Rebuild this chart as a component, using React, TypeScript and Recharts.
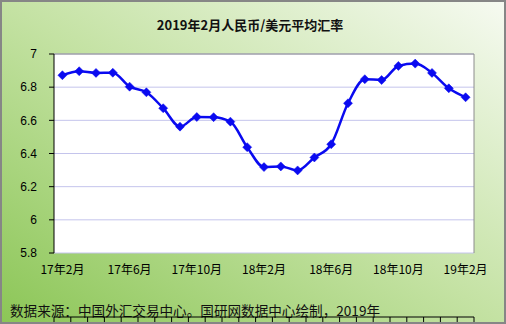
import { LineChart, Line, XAxis, YAxis, CartesianGrid, ReferenceLine } from 'recharts';

// 2017-02 .. 2019-02 monthly average RMB/USD
const months = [
  '17年2月', '17年3月', '17年4月', '17年5月', '17年6月', '17年7月', '17年8月', '17年9月',
  '17年10月', '17年11月', '17年12月', '18年1月', '18年2月', '18年3月', '18年4月', '18年5月',
  '18年6月', '18年7月', '18年8月', '18年9月', '18年10月', '18年11月', '18年12月', '19年1月', '19年2月',
];
const rates = [
  6.872, 6.896, 6.886, 6.887, 6.803, 6.769, 6.673, 6.562, 6.620, 6.619, 6.592, 6.438, 6.318,
  6.322, 6.298, 6.376, 6.456, 6.703, 6.848, 6.843, 6.928, 6.942, 6.886, 6.793, 6.739,
];
const yTicks = [5.8, 6, 6.2, 6.4, 6.6, 6.8, 7];
const labelIdx = [0, 4, 8, 12, 16, 20, 24];

const data = months.map((m, i) => ({ i, month: m, rate: rates[i] }));
const boundaryTicks = [...months.map((_, i) => i - 0.5), months.length - 0.5];

function Diamond(props: any) {
  const { cx, cy } = props;
  if (cx == null || cy == null) return null;
  const r = 4.5;
  return (
    <polygon
      points={`${cx},${cy - r} ${cx + r},${cy} ${cx},${cy + r} ${cx - r},${cy}`}
      fill="#0a0af0"
      stroke="#0a0af0"
      strokeWidth={0.5}
    />
  );
}

const font = '"Liberation Sans", Arial, sans-serif';
const cjk = '"Noto Sans CJK SC", "Liberation Sans", sans-serif';

export default function App() {
  const domain: [number, number] = [-0.5, months.length - 0.5];
  return (
    <div
      style={{
        position: 'absolute', top: 0, left: 0, width: 506, height: 324, boxSizing: 'border-box',
        border: '2px solid #868686',
        background: 'linear-gradient(to top right, #8cc657 0%, #c4e2a3 50%, #f6faf1 100%)',
        fontFamily: cjk,
      }}
    >
      <div style={{ position: 'absolute', top: 13, left: 0, width: 496, textAlign: 'center', fontSize: 13, fontWeight: 'bold', color: '#111' }}>
        2019年2月人民币/美元平均汇率
      </div>
      <div style={{ position: 'absolute', top: 298, left: 8, fontSize: 13.6, color: '#111', whiteSpace: 'nowrap' }}>
        数据来源：中国外汇交易中心。国研网数据中心绘制，2019年
      </div>
      <LineChart
        width={502}
        height={320}
        data={data}
        margin={{ top: 52, right: 30, bottom: 0, left: 0 }}
        style={{ position: 'absolute', left: 0, top: 0 }}
      >
        <CartesianGrid vertical={false} stroke="#c4c4ec" strokeWidth={1} fill="#ffffff" fillOpacity={1} xAxisId="marks" />
        <XAxis
          xAxisId="marks"
          dataKey="i"
          type="number"
          domain={domain}
          ticks={boundaryTicks}
          interval={0}
          tickFormatter={() => ''}
          stroke="#000"
          tickSize={5}
          height={5}
        />
        <XAxis
          xAxisId="labels"
          dataKey="i"
          type="number"
          domain={domain}
          ticks={labelIdx}
          interval={0}
          tickFormatter={(v: number) => months[v]}
          axisLine={false}
          tickLine={false}
          tick={{ fill: '#000', fontSize: 12, fontFamily: cjk }}
          tickMargin={6}
          height={64}
        />
        <YAxis
          domain={[5.8, 7]}
          ticks={yTicks}
          interval={0}
          width={52}
          stroke="#000"
          tickSize={5}
          tickMargin={12}
          tick={{ fill: '#000', fontSize: 12, fontFamily: font }}
          allowDataOverflow
        />
        <ReferenceLine y={7} xAxisId="marks" stroke="#8c8c8c" />
        <ReferenceLine x={months.length - 0.5} xAxisId="marks" stroke="#8c8c8c" />
        <Line
          xAxisId="marks"
          type="monotone"
          dataKey="rate"
          stroke="#0a0af0"
          strokeWidth={2.5}
          dot={<Diamond />}
          activeDot={false}
          isAnimationActive={false}
        />
      </LineChart>
    </div>
  );
}
